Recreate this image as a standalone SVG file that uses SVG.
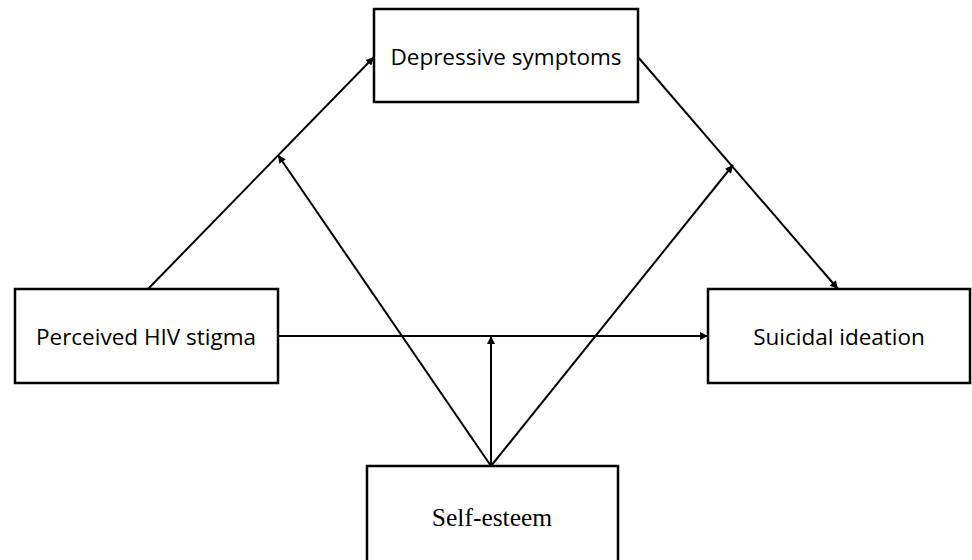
<svg xmlns="http://www.w3.org/2000/svg" width="972" height="560" viewBox="0 0 972 560">
<defs>
<marker id="arr" viewBox="0 0 10 10" refX="10" refY="5" markerWidth="9" markerHeight="8" markerUnits="userSpaceOnUse" orient="auto">
<path d="M0,0 L10,5 L0,10 z" fill="#000"/>
</marker>
<style>
.box{fill:#fff;stroke:#000;stroke-width:2.5}
.lbl{font-family:"Open Sans","Noto Sans",sans-serif;font-size:22.5px;fill:#000;text-anchor:middle}
.ser{font-family:"Liberation Serif",serif;font-size:25.5px;fill:#000;text-anchor:middle}
.con line{stroke:#000;stroke-width:2;marker-end:url(#arr)}
</style>
</defs>
<rect width="972" height="560" fill="#fff"/>
<g class="con" id="connectors">
<line x1="148" y1="289" x2="374" y2="57"/>
<line x1="638" y1="57" x2="838" y2="289"/>
<line x1="278" y1="336" x2="708" y2="336"/>
<line x1="491" y1="466" x2="278" y2="155"/>
<line x1="491" y1="466" x2="733" y2="165"/>
<line x1="491" y1="466" x2="491" y2="336"/>
</g>
<g id="depressive">
<rect class="box" x="374" y="9" width="264" height="93"/>
<text class="lbl" x="506" y="65">Depressive symptoms</text>
</g>
<g id="stigma">
<rect class="box" x="15" y="289" width="263" height="94"/>
<text class="lbl" x="146" y="345">Perceived HIV stigma</text>
</g>
<g id="suicidal">
<rect class="box" x="708" y="289" width="262" height="94"/>
<text class="lbl" x="839" y="345">Suicidal ideation</text>
</g>
<g id="selfesteem">
<rect class="box" x="367" y="466" width="251" height="100"/>
<text class="ser" x="492" y="526">Self-esteem</text>
</g>
</svg>
